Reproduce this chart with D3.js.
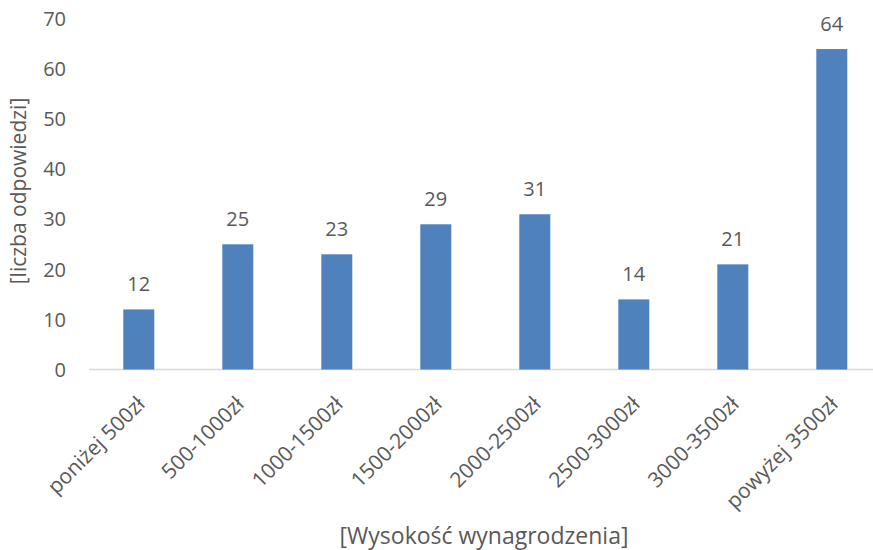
<!DOCTYPE html>
<html><head><meta charset="utf-8">
<script src="https://cdn.jsdelivr.net/npm/d3@7"></script>
<style>body{margin:0;background:#fff}svg{display:block}text{font-family:"Open Sans",sans-serif;fill:#595959}</style>
</head><body>
<script>
const categories = ["poniżej 500zł","500-1000zł","1000-1500zł","1500-2000zł","2000-2500zł","2500-3000zł","3000-3500zł","powyżej 3500zł"];
const values = [12,25,23,29,31,14,21,64];
const yTicks = [0,10,20,30,40,50,60,70];
const xTitle = "[Wysokość wynagrodzenia]";
const yTitle = "[liczba odpowiedzi]";

const W=873,H=550;
const svg=d3.select("body").append("svg").attr("width",W).attr("height",H);
const x=d3.scaleBand().domain(categories).range([89.3,881.3]).paddingInner(0.687).paddingOuter(0.3435);
const y=d3.scaleLinear().domain([0,70]).range([369.5,19]);

svg.append("line").attr("x1",89).attr("x2",881).attr("y1",y(0)).attr("y2",y(0)).attr("stroke","#d9d9d9").attr("stroke-width",1.5);

svg.selectAll("rect.bar").data(values).join("rect").attr("class","bar")
  .attr("x",(d,i)=>x(categories[i])).attr("width",x.bandwidth())
  .attr("y",d=>y(d)).attr("height",d=>y(0)-y(d)).attr("fill","#4f81bd");

svg.selectAll("text.val").data(values).join("text").attr("class","val")
  .attr("x",(d,i)=>x(categories[i])+x.bandwidth()/2).attr("y",d=>y(d)-18)
  .attr("text-anchor","middle").attr("font-size",20).text(d=>d);

svg.selectAll("text.yt").data(yTicks).join("text").attr("class","yt")
  .attr("x",66).attr("y",d=>y(d)).attr("dy","0.36em").attr("text-anchor","end").attr("font-size",20).text(d=>d);

svg.selectAll("text.xt").data(categories).join("text").attr("class","xt")
  .attr("transform",d=>`translate(${x(d)+x.bandwidth()/2-3},${395}) rotate(-45)`)
  .attr("text-anchor","end").attr("dy","0.7em").attr("font-size",21).text(d=>d);

svg.append("text").attr("x",484).attr("y",544).attr("text-anchor","middle").attr("font-size",23).text(xTitle);
svg.append("text").attr("transform","translate(26,191) rotate(-90)").attr("text-anchor","middle").attr("font-size",21).text(yTitle);
</script>
</body></html>
